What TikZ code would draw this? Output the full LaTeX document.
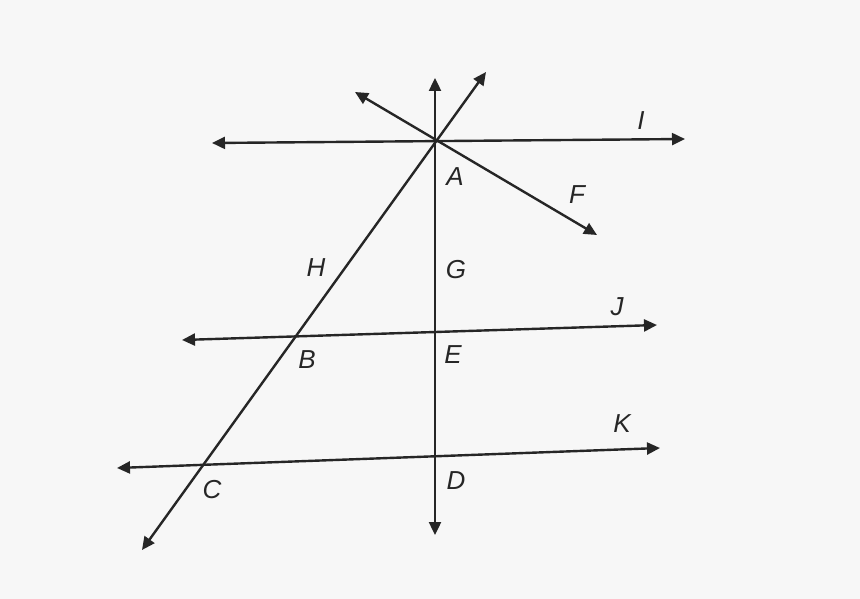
\documentclass[tikz,border=0pt]{standalone}
\usepackage{fontspec}
\setmainfont{Liberation Sans}
\usetikzlibrary{arrows.meta}
\definecolor{bg}{HTML}{F7F7F7}
\definecolor{ink}{HTML}{262626}
\begin{document}
\begin{tikzpicture}[x=1pt,y=-1pt,
  ln/.style={draw=ink,line width=2.4pt,{Triangle[length=13pt,width=12pt]}-{Triangle[length=13pt,width=12pt]}},
  lab/.style={text=ink,font=\fontsize{26}{26}\selectfont\itshape,inner sep=0pt}]
\fill[bg] (0,0) rectangle (860,599);
\useasboundingbox (0,0) rectangle (860,599);
\coordinate (Il) at (212,143); \coordinate (Ir) at (685,139);
\coordinate (Vt) at (435,78);  \coordinate (Vb) at (435,535);
\coordinate (Ht) at (486,72);  \coordinate (Hb) at (142,550);
\coordinate (Ft) at (355,92);  \coordinate (Fb) at (597,235);
\coordinate (Jl) at (182,340); \coordinate (Jr) at (657,325);
\coordinate (Kl) at (117,468); \coordinate (Kr) at (660,448);
\draw[ln] (Il) -- (Ir);
\draw[ln] (Vb) -- (Vt);
\draw[ln] (Hb) -- (Ht);
\draw[ln] (Ft) -- (Fb);
\draw[ln] (Jl) -- (Jr);
\draw[ln] (Kl) -- (Kr);
\node[lab] (lI) at (641,121) {I};
\node[lab] (lA) at (455,177) {A};
\node[lab] (lF) at (577,195) {F};
\node[lab] (lH) at (316,268) {H};
\node[lab] (lG) at (456,270) {G};
\node[lab] (lJ) at (617,307) {J};
\node[lab] (lB) at (307,360) {B};
\node[lab] (lE) at (453,355) {E};
\node[lab] (lK) at (622,424) {K};
\node[lab] (lC) at (212,490) {C};
\node[lab] (lD) at (456,481) {D};
\end{tikzpicture}
\end{document}
